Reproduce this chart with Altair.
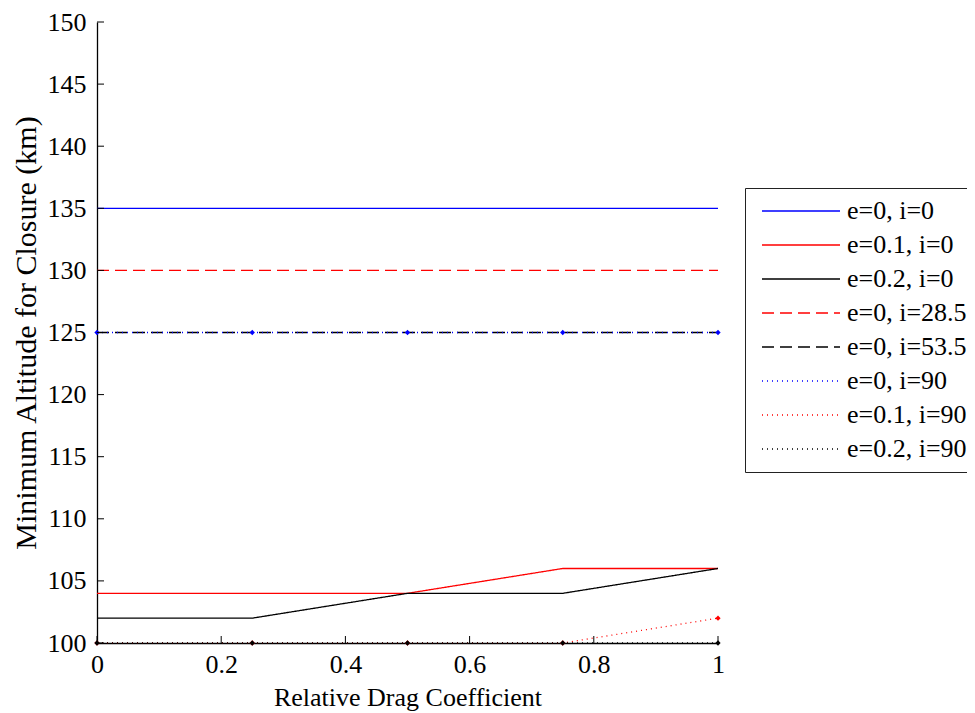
import altair as alt
import pandas as pd

x_vals = [0, 0.25, 0.5, 0.75, 1]
series_names = ["e=0, i=0", "e=0.1, i=0", "e=0.2, i=0", "e=0, i=28.5",
                "e=0, i=53.5", "e=0, i=90", "e=0.1, i=90", "e=0.2, i=90"]
s_e0_i0 = [135, 135, 135, 135, 135]
s_e01_i0 = [104, 104, 104, 106, 106]
s_e02_i0 = [102, 102, 104, 104, 106]
s_e0_i285 = [130, 130, 130, 130, 130]
s_e0_i535 = [125, 125, 125, 125, 125]
s_e0_i90 = [125, 125, 125, 125, 125]
s_e01_i90 = [100, 100, 100, 100, 102]
s_e02_i90 = [100, 100, 100, 100, 100]
series_values = [s_e0_i0, s_e01_i0, s_e02_i0, s_e0_i285, s_e0_i535,
                 s_e0_i90, s_e01_i90, s_e02_i90]
series_colors = ["#0000ff", "#ff0000", "#000000", "#ff0000", "#000000",
                 "#0000ff", "#ff0000", "#000000"]
series_dash = [[1, 0], [1, 0], [1, 0], [12, 6], [12, 6], [1, 4], [1, 4], [1, 4]]
marker_series = ["e=0, i=90", "e=0.1, i=90", "e=0.2, i=90"]

y_ticks = [100, 105, 110, 115, 120, 125, 130, 135, 140, 145, 150]
x_ticks = [0, 0.2, 0.4, 0.6, 0.8, 1]

rows = []
for k, (name, vals) in enumerate(zip(series_names, series_values)):
    for xv, yv in zip(x_vals, vals):
        rows.append({"series": name, "order": k, "x": xv, "y": yv})
df = pd.DataFrame(rows)

FONT = "Times New Roman"
W, H = 621, 621

xs = alt.Scale(domain=[0, 1], nice=False, zero=False)
ys = alt.Scale(domain=[100, 150], nice=False, zero=False)

color = alt.Color("series:N", scale=alt.Scale(domain=series_names, range=series_colors),
                  sort=series_names,
                  legend=alt.Legend(title=None, orient="none", legendX=648, legendY=166,
                                    symbolType="M-1,0L6.8,0", symbolSize=400,
                                    symbolStrokeWidth=1.3, labelFont=FONT,
                                    labelFontSize=26, labelColor="black",
                                    strokeColor="#222222", fillColor="white",
                                    padding=10, rowPadding=8, labelOffset=62,
                                    labelLimit=300, symbolOffset=4))
dash = alt.StrokeDash("series:N", scale=alt.Scale(domain=series_names, range=series_dash),
                      sort=series_names, legend=None)

lines = alt.Chart(df).mark_line(strokeWidth=1.3, clip=False).encode(
    x=alt.X("x:Q", scale=xs,
            axis=alt.Axis(values=x_ticks, title="Relative Drag Coefficient", ticks=False,
                          labelFont=FONT, labelFontSize=26, labelColor="black",
                          labelFlush=False, labelOverlap=False,
                          titleFont=FONT, titleFontSize=26, titleFontWeight="normal",
                          titleColor="black", domainColor="black", domainWidth=1.3,
                          labelPadding=8, titlePadding=7, grid=False,
                          labelExpr="datum.value == 0 ? '0' : datum.value == 1 ? '1' : format(datum.value, '.1f')")),
    y=alt.Y("y:Q", scale=ys,
            axis=alt.Axis(values=y_ticks, title="Minimum Altitude for Closure (km)", ticks=False,
                          labelFont=FONT, labelFontSize=26, labelColor="black",
                          labelFlush=False, labelOverlap=False,
                          titleFont=FONT, titleFontSize=30, titleFontWeight="normal",
                          titleColor="black", domainColor="black", domainWidth=1.3,
                          labelPadding=11, titlePadding=6, grid=False)),
    color=color,
    strokeDash=dash,
    detail="series:N",
    order="order:Q",
)

pts = alt.Chart(df).transform_filter(
    alt.FieldOneOfPredicate(field="series", oneOf=marker_series)
).mark_point(shape="diamond", filled=True, size=28, opacity=1, clip=False).encode(
    x=alt.X("x:Q", scale=xs),
    y=alt.Y("y:Q", scale=ys),
    color=alt.Color("series:N", scale=alt.Scale(domain=series_names, range=series_colors), legend=None),
    order="order:Q",
)

ytick_df = pd.DataFrame({"v": y_ticks})
xtick_df = pd.DataFrame({"v": x_ticks})
yt = alt.Chart(ytick_df).mark_rule(color="black", strokeWidth=1).encode(
    y=alt.Y("v:Q", scale=ys), x=alt.value(0), x2=alt.value(7))
xt = alt.Chart(xtick_df).mark_rule(color="black", strokeWidth=1).encode(
    x=alt.X("v:Q", scale=xs), y=alt.value(H), y2=alt.value(H - 7))

chart = alt.layer(lines, pts, yt, xt).properties(
    width=W, height=H,
    autosize=alt.AutoSizeParams(type="none"),
    padding={"left": 89, "top": 14, "right": 249, "bottom": 70},
).configure(background="white").configure_view(stroke=None)

chart.save("out.html", embed_options={"renderer": "svg", "actions": False})
